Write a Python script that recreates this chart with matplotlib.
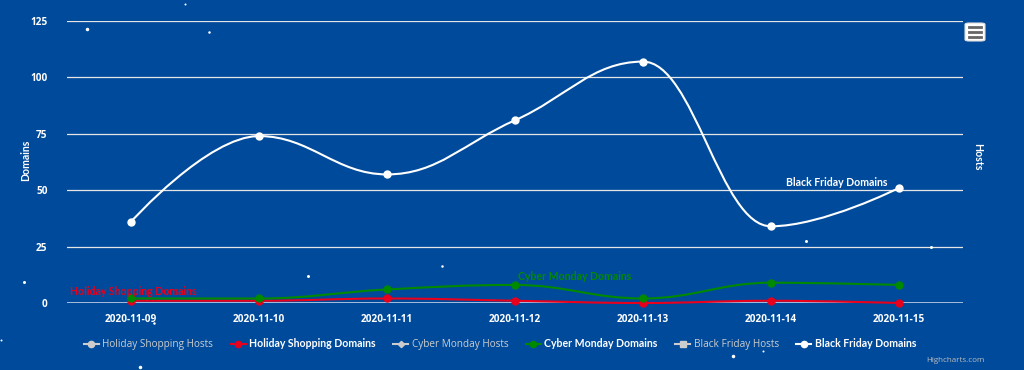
import numpy as np
import matplotlib
matplotlib.use("Agg")
import matplotlib.pyplot as plt
from matplotlib.path import Path
from matplotlib.patches import PathPatch, FancyBboxPatch
from matplotlib.lines import Line2D

plt.rcParams['font.family'] = ['Open Sans', 'DejaVu Sans']
LABEL_FONT = ['Lato', 'DejaVu Sans']

# ---------------- data ----------------
dates = ["2020-11-09", "2020-11-10", "2020-11-11", "2020-11-12",
         "2020-11-13", "2020-11-14", "2020-11-15"]
black_friday_domains = [36, 74, 57, 81, 107, 34, 51]
cyber_monday_domains = [2, 2, 6, 8, 2, 9, 8]
holiday_shopping_domains = [1, 1, 2, 1, 0, 1, 0]
y_ticks = [0, 25, 50, 75, 100, 125]

legend_labels = ["Holiday Shopping Hosts", "Holiday Shopping Domains",
                 "Cyber Monday Hosts", "Cyber Monday Domains",
                 "Black Friday Hosts", "Black Friday Domains"]

# decorative background dots (pixel positions, size)
stars = [(87, 29, 3.5), (185, 4, 2), (209, 32, 2.5), (24, 282, 3), (308, 276, 3),
         (442, 266, 2.5), (154, 323, 2.5), (140, 367, 3.5), (733, 356, 3.5),
         (763, 351, 2), (806, 241, 3), (931, 247, 3), (1, 340, 2)]

BG = '#004a9b'
RED = '#e8001c'
GREEN = '#008a00'
W, H = 1024, 370


def highcharts_spline(xs, ys, smoothing=1.5):
    """Build a Path following Highcharts' spline control-point algorithm."""
    n = len(xs)
    denom = smoothing + 1
    lc = [None] * n
    rc = [None] * n
    for i in range(n):
        if i == 0 or i == n - 1:
            lc[i] = (xs[i], ys[i])
            rc[i] = (xs[i], ys[i])
            continue
        px, py = xs[i], ys[i]
        lx, ly = xs[i - 1], ys[i - 1]
        nx, ny = xs[i + 1], ys[i + 1]
        lcx = (smoothing * px + lx) / denom
        lcy = (smoothing * py + ly) / denom
        rcx = (smoothing * px + nx) / denom
        rcy = (smoothing * py + ny) / denom
        corr = 0
        if rcx != lcx:
            corr = ((rcy - lcy) * (rcx - px)) / (rcx - lcx) + py - rcy
        lcy += corr
        rcy += corr
        if lcy > ly and lcy > py:
            lcy = max(ly, py); rcy = 2 * py - lcy
        elif lcy < ly and lcy < py:
            lcy = min(ly, py); rcy = 2 * py - lcy
        if rcy > ny and rcy > py:
            rcy = max(ny, py); lcy = 2 * py - rcy
        elif rcy < ny and rcy < py:
            rcy = min(ny, py); lcy = 2 * py - rcy
        lc[i] = (lcx, lcy)
        rc[i] = (rcx, rcy)
    verts = [(xs[0], ys[0])]
    codes = [Path.MOVETO]
    for i in range(1, n):
        verts += [rc[i - 1], lc[i], (xs[i], ys[i])]
        codes += [Path.CURVE4] * 3
    return Path(verts, codes)


fig = plt.figure(figsize=(W / 100, H / 100), dpi=100, facecolor=BG)
ax = fig.add_axes([67 / W, 1 - 303 / H, (963 - 67) / W, (303 - 21) / H])
ax.set_facecolor(BG)
for s in ax.spines.values():
    s.set_visible(False)

x = np.arange(len(dates))
ax.set_xlim(-0.5, len(dates) - 0.5)
ax.set_ylim(0, 125)
ax.set_yticks(y_ticks)
ax.set_xticks(x)
ax.set_xticklabels(dates)
ax.grid(axis='y', color='#e6e6e6', lw=0.9)
ax.set_axisbelow(True)
ax.axhline(0, color='#ccd6eb', lw=1.1, zorder=1)
ax.tick_params(axis='both', length=0, colors='white', labelsize=7.2)
ax.tick_params(axis='y', pad=14)
ax.tick_params(axis='x', pad=8)
for lab in ax.get_xticklabels() + ax.get_yticklabels():
    lab.set_fontweight('bold')

series = [
    (holiday_shopping_domains, RED),
    (cyber_monday_domains, GREEN),
    (black_friday_domains, 'white'),
]
for i, (vals, col) in enumerate(series):
    p = highcharts_spline(list(x.astype(float)), list(map(float, vals)))
    ax.add_patch(PathPatch(p, fill=False, edgecolor=col, lw=1.5, zorder=3 + i,
                           clip_on=False))
    ax.plot(x, vals, ls='none', marker='o', ms=5, color=col, mec=col,
            zorder=4 + i, clip_on=False)

# series labels
ax.text(-0.48, 4.9, "Holiday Shopping Domains", color=RED, fontsize=7.6,
        family=LABEL_FONT, fontweight='bold', va='center', ha='left', zorder=8)
ax.text(3.02, 11.6, "Cyber Monday Domains", color=GREEN, fontsize=7.6,
        family=LABEL_FONT, fontweight='bold', va='center', ha='left', zorder=8)
ax.text(5.12, 53.2, "Black Friday Domains", color='white', fontsize=7.6,
        family=LABEL_FONT, fontweight='bold', va='center', ha='left', zorder=8)

fig.text(26 / W, 1 - 160 / H, "Domains", color='white', fontsize=7.6,
         family=LABEL_FONT, fontweight='bold', rotation=90, ha='center', va='center')
fig.text(978 / W, 1 - 157 / H, "Hosts", color='white', fontsize=7.6,
         family=LABEL_FONT, fontweight='bold', rotation=270, ha='center', va='center')

# legend
handles = [
    Line2D([], [], color='#cccccc', marker='o', ms=4.5, lw=1.5),
    Line2D([], [], color=RED, marker='o', ms=4.5, lw=1.5),
    Line2D([], [], color='#cccccc', marker='D', ms=3.2, lw=1.5),
    Line2D([], [], color=GREEN, marker='o', ms=4.5, lw=1.5),
    Line2D([], [], color='#cccccc', marker='s', ms=4.2, lw=1.5),
    Line2D([], [], color='white', marker='o', ms=4.5, lw=1.5),
]
leg = fig.legend(handles, legend_labels, loc='center', ncol=6,
                 bbox_to_anchor=(500 / W, 1 - 344 / H), frameon=False,
                 fontsize=7.2, handlelength=1.5, handletextpad=0.35,
                 columnspacing=1.75)
for t, hidden in zip(leg.get_texts(), [True, False, True, False, True, False]):
    t.set_color('#cccccc' if hidden else 'white')
    if not hidden:
        t.set_family(LABEL_FONT)
        t.set_fontweight('bold')
        t.set_fontsize(7.6)

# credits
fig.text(985 / W, 1 - 361 / H, "Highcharts.com", color='#bbbbbb', fontsize=5.8,
         ha='right', va='center')

# menu button
btn = FancyBboxPatch((965 / W, 1 - 41 / H), 20 / W, 18 / H,
                     boxstyle="round,pad=0,rounding_size=0.004",
                     transform=fig.transFigure, facecolor='white',
                     edgecolor='#dddddd', lw=0.8, zorder=10)
fig.patches.append(btn)
for yy in (27, 32, 37):
    fig.lines.append(Line2D([969 / W, 981 / W], [1 - yy / H, 1 - yy / H],
                            transform=fig.transFigure, color='#666666', lw=2,
                            zorder=11))

# decorative dots
for sx, sy, sz in stars:
    fig.lines.append(Line2D([sx / W], [1 - sy / H], transform=fig.transFigure,
                            ls='none', marker='o', ms=sz * 0.72, color='white',
                            mec='none', zorder=2))

fig.savefig("out.png", dpi=100, facecolor=BG)
